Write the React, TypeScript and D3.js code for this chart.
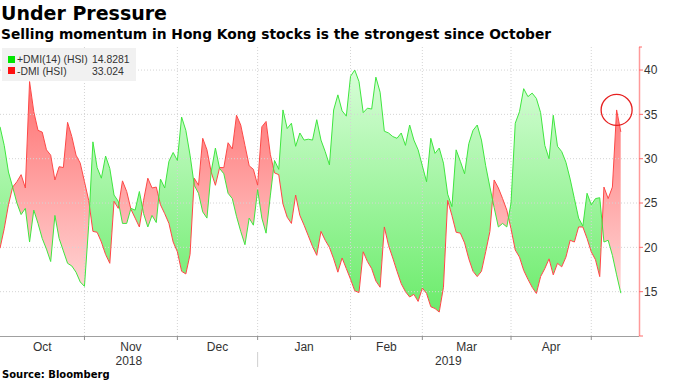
import React from 'react';
import * as d3 from 'd3';

const titleText = 'Under Pressure';
const subtitleText = 'Selling momentum in Hong Kong stocks is the strongest since October';
const sourceText = 'Source: Bloomberg';

const months = ['Oct', 'Nov', 'Dec', 'Jan', 'Feb', 'Mar', 'Apr'];
// index of the first trading day of each month, Oct 2018 .. May 2019
const monthStarts = [0, 20, 42, 61, 83, 100, 121, 140];
const years = ['2018', '2019'];
const yearStart = 61;
const yTicks = [10, 15, 20, 25, 30, 35, 40];

const plusName = '+DMI(14) (HSI)';
const plusLast = '14.8281';
const minusName = '-DMI (HSI)';
const minusLast = '33.024';

const plusDMI = [
  33.6, 31.5, 28.5, 26.8, 25.0, 23.7, 24.4, 20.6, 24.2, 22.7,
  21.0, 19.8, 18.4, 23.6, 21.0, 19.6, 18.2, 17.9, 17.2, 16.1,
  15.6, 22.5, 31.9, 29.0, 27.8, 30.3, 28.9, 25.9, 25.2, 22.7,
  22.7, 24.4, 24.2, 26.3, 23.8, 22.3, 23.6, 22.8, 27.7, 26.7,
  29.7, 30.7, 29.8, 34.7, 33.2, 30.4, 27.0, 26.1, 24.0, 23.3,
  28.5, 31.2, 28.9, 28.3, 26.1, 25.5, 23.5, 21.8, 20.3, 23.3,
  22.5, 26.5, 23.3, 21.6, 25.8, 29.8, 28.8, 35.5, 33.4, 34.0,
  31.4, 32.9, 32.1, 32.2, 32.1, 34.4, 32.1, 30.8, 29.3, 35.5,
  37.2, 35.4, 34.8, 39.3, 40.0, 38.7, 35.2, 35.7, 35.6, 39.2,
  37.5, 33.1, 32.9, 32.5, 32.3, 32.9, 31.5, 33.8, 32.1, 31.0,
  29.2, 27.4, 32.3, 30.6, 31.2, 29.5, 26.0, 24.6, 31.0, 29.7,
  28.3, 31.7, 33.2, 33.8, 32.1, 29.2, 26.8, 24.5, 22.3, 22.7,
  22.3, 25.0, 34.0, 35.3, 37.9, 37.0, 37.4, 36.8, 35.2, 31.5,
  30.0, 34.9, 31.4, 30.8, 29.6, 27.7, 25.5, 23.3, 22.4, 26.1,
  24.8, 25.5, 25.6, 20.6, 20.8, 19.1, 16.9, 14.83,
];

const minusDMI = [
  19.9, 22.1, 24.8, 26.8, 27.4, 28.2, 26.7, 38.7, 35.3, 33.2,
  33.0, 31.0, 30.4, 27.6, 29.1, 29.0, 34.1, 32.5, 30.4, 29.5,
  27.4, 25.3, 21.8, 21.7, 20.6, 19.2, 18.2, 25.2, 24.4, 27.5,
  26.3, 24.3, 23.3, 22.3, 25.3, 27.8, 26.7, 26.8, 24.8, 23.8,
  22.7, 20.6, 19.5, 17.3, 17.0, 19.2, 27.8, 27.0, 32.3, 31.0,
  28.5, 27.0, 29.0, 29.0, 31.8, 31.1, 34.9, 33.8, 31.5, 29.2,
  28.8, 27.0, 33.6, 34.2, 30.5, 28.4, 28.2, 24.9, 23.4, 22.7,
  25.9, 23.6, 22.5, 21.3, 20.1, 19.1, 21.8, 20.8, 20.0, 18.7,
  17.2, 18.8, 17.6, 16.4, 15.1, 14.9, 19.5, 18.4, 17.6, 16.2,
  15.5, 22.3, 20.2, 18.8, 17.3, 15.9, 15.0, 14.4, 14.7, 13.9,
  15.4, 14.8, 13.3, 13.1, 12.7, 15.5, 25.3, 23.6, 21.7, 21.6,
  20.5, 18.7, 17.3, 16.7, 17.3, 19.5, 21.8, 27.6, 26.7, 25.5,
  24.2, 22.1, 19.7, 18.9, 17.4, 16.4, 15.5, 14.8, 16.7, 17.6,
  18.7, 16.9, 18.2, 17.8, 18.9, 20.8, 20.6, 22.3, 22.3, 21.0,
  19.5, 18.6, 16.7, 26.8, 25.5, 26.8, 35.5, 33.02,
];

const W = 680;
const H = 383;
const plotLeft = 0;
const plotRight = 639;
const plotTop = 47;
const plotBottom = 336;

export default function App() {
  const x = d3.scaleLinear().domain([0, 151.3]).range([plotLeft, plotRight]);
  const y = d3.scaleLinear().domain([10, 42.6]).range([plotBottom, plotTop]);
  const idx = plusDMI.map((_, i) => i);

  const band = d3
    .area<number>()
    .x((i) => x(i))
    .y0((i) => y(minusDMI[i]))
    .y1((i) => y(plusDMI[i]));
  const clipAbove = d3
    .area<number>()
    .x((i) => x(i))
    .y0(0)
    .y1((i) => y(minusDMI[i]));
  const clipBelow = d3
    .area<number>()
    .x((i) => x(i))
    .y0((i) => y(minusDMI[i]))
    .y1(H);
  const linePlus = d3
    .line<number>()
    .x((i) => x(i))
    .y((i) => y(plusDMI[i]));
  const lineMinus = d3
    .line<number>()
    .x((i) => x(i))
    .y((i) => y(minusDMI[i]));

  const axisFont = '"Liberation Sans", Arial, sans-serif';
  const titleFont = '"DejaVu Sans", sans-serif';
  const last = plusDMI.length - 1;
  const peakIdx = last - 1;

  const monthBounds = monthStarts.slice(1);
  const yearCenters = [
    (x(0) + x(yearStart)) / 2,
    (x(yearStart) + plotRight) / 2,
  ];

  return (
    <svg
      width={W}
      height={H}
      style={{ position: 'absolute', left: 0, top: 0, background: '#fff' }}
    >
      <defs>
        <linearGradient id="gGreen" gradientUnits="userSpaceOnUse" x1="0" y1={plotTop} x2="0" y2={plotBottom}>
          <stop offset="0" stopColor="#e2ffe2" />
          <stop offset="1" stopColor="#60ea60" />
        </linearGradient>
        <linearGradient id="gRed" gradientUnits="userSpaceOnUse" x1="0" y1={plotTop} x2="0" y2={plotBottom}>
          <stop offset="0" stopColor="#ff5e5e" />
          <stop offset="1" stopColor="#ffecec" />
        </linearGradient>
        <clipPath id="cAbove">
          <path d={clipAbove(idx) || ''} />
        </clipPath>
        <clipPath id="cBelow">
          <path d={clipBelow(idx) || ''} />
        </clipPath>
      </defs>

      {/* title */}
      <text x={1} y={20} fontFamily={titleFont} fontWeight="bold" fontSize={19} fill="#000">
        {titleText}
      </text>
      <text x={1} y={38.5} fontFamily={titleFont} fontWeight="bold" fontSize={13.8} fill="#000">
        {subtitleText}
      </text>

      {/* fills */}
      <path d={band(idx) || ''} fill="url(#gGreen)" clipPath="url(#cAbove)" />
      <path d={band(idx) || ''} fill="url(#gRed)" clipPath="url(#cBelow)" />

      {/* gridlines */}
      {yTicks.slice(1).map((t) => (
        <line
          key={'h' + t}
          x1={plotLeft}
          x2={plotRight}
          y1={y(t)}
          y2={y(t)}
          stroke="#d4d4d4"
          strokeDasharray="1,2"
        />
      ))}
      {monthBounds.map((b) => (
        <line
          key={'v' + b}
          x1={x(b)}
          x2={x(b)}
          y1={plotTop}
          y2={plotBottom}
          stroke="#d4d4d4"
          strokeDasharray="1,2"
        />
      ))}

      {/* lines */}
      <path d={lineMinus(idx) || ''} fill="none" stroke="#ff4646" strokeWidth={1} />
      <path d={linePlus(idx) || ''} fill="none" stroke="#3fe63f" strokeWidth={1} />

      {/* annotation circle */}
      <circle
        cx={x(peakIdx)}
        cy={y(minusDMI[peakIdx])}
        r={15.5}
        fill="none"
        stroke="#e62020"
        strokeWidth={1.3}
      />

      {/* bottom axis */}
      <line x1={plotLeft} x2={plotRight} y1={plotBottom + 0.5} y2={plotBottom + 0.5} stroke="#a0a0a0" />
      {monthBounds.map((b) => (
        <line
          key={'t' + b}
          x1={x(b)}
          x2={x(b)}
          y1={plotBottom}
          y2={plotBottom + 4}
          stroke="#909090"
        />
      ))}
      {months.map((m, i) => (
        <text
          key={m}
          x={(x(monthStarts[i]) + x(monthStarts[i + 1])) / 2}
          y={351}
          textAnchor="middle"
          fontFamily={axisFont}
          fontSize={12}
          fill="#333"
        >
          {m}
        </text>
      ))}
      <line x1={x(yearStart)} x2={x(yearStart)} y1={352} y2={367} stroke="#cfcfcf" />
      {years.map((yr, i) => (
        <text
          key={yr}
          x={yearCenters[i]}
          y={365}
          textAnchor="middle"
          fontFamily={axisFont}
          fontSize={12}
          fill="#333"
        >
          {yr}
        </text>
      ))}

      {/* right axis */}
      <line x1={plotRight + 0.5} x2={plotRight + 0.5} y1={plotTop} y2={plotBottom} stroke="#ff9a9a" strokeWidth={1.5} />
      {yTicks.map((t) => (
        <line key={'rt' + t} x1={plotRight} x2={plotRight + 4} y1={y(t)} y2={y(t)} stroke="#ff6a6a" />
      ))}
      <line x1={plotRight} x2={plotRight + 3} y1={plotTop} y2={plotTop} stroke="#ff6a6a" />
      {yTicks.slice(1).map((t) => (
        <text
          key={'rl' + t}
          x={plotRight + 5}
          y={y(t)}
          dy="0.36em"
          fontFamily={axisFont}
          fontSize={12}
          fill="#333"
        >
          {t}
        </text>
      ))}

      {/* legend */}
      <rect x={2} y={48} width={134} height={33} fill="#f1f1f1" />
      <rect x={8} y={56} width={7} height={7} fill="#00e600" />
      <rect x={8} y={67} width={7} height={7} fill="#ff1010" />
      <text x={17} y={63} fontFamily={axisFont} fontSize={10.4} fill="#333">
        {plusName}
      </text>
      <text x={92} y={63} fontFamily={axisFont} fontSize={10.4} fill="#333">
        {plusLast}
      </text>
      <text x={17} y={74.5} fontFamily={axisFont} fontSize={10.4} fill="#333">
        {minusName}
      </text>
      <text x={92} y={74.5} fontFamily={axisFont} fontSize={10.4} fill="#333">
        {minusLast}
      </text>

      {/* source */}
      <text x={2} y={378} fontFamily={titleFont} fontWeight="bold" fontSize={10} fill="#000">
        {sourceText}
      </text>
    </svg>
  );
}
